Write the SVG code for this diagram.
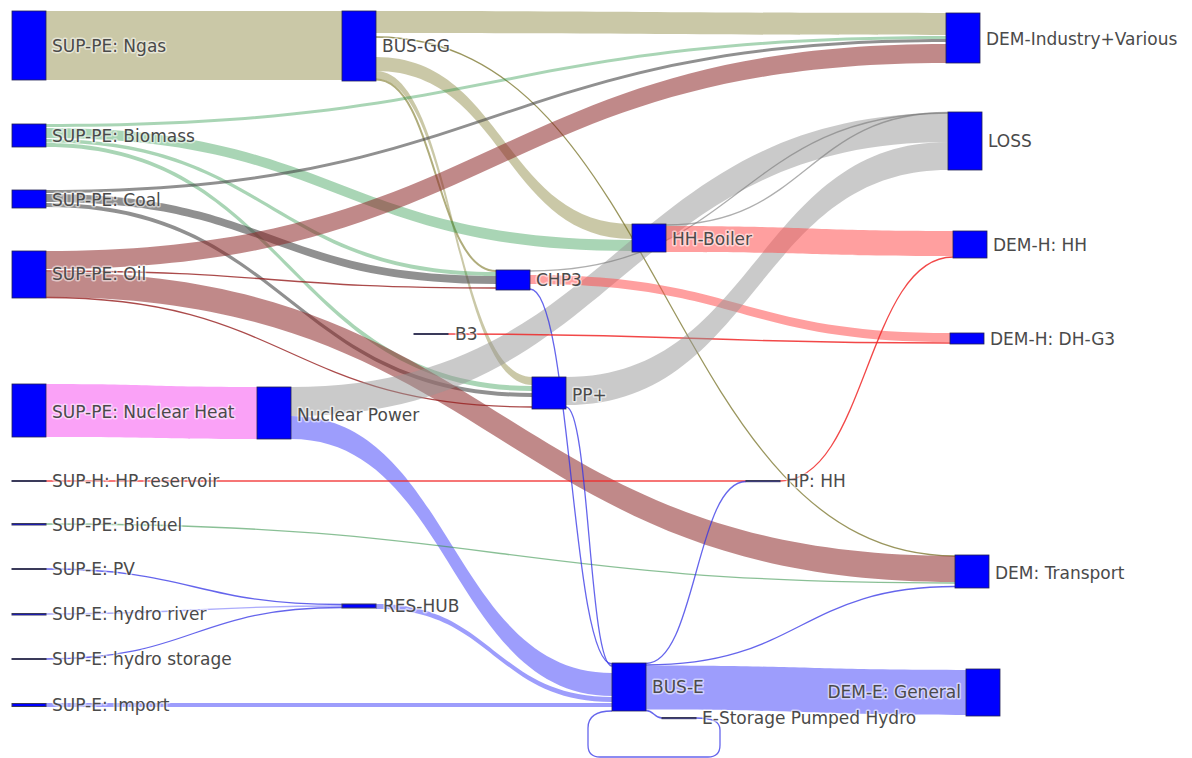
<svg xmlns="http://www.w3.org/2000/svg" width="1192" height="758" viewBox="0 0 1192 758">
<style>
.n{fill:#0000ff;stroke:#222255;stroke-width:0.8}
.tn{fill:#0000ff;stroke:#3a3a5a;stroke-width:1}
.t{font-family:"DejaVu Sans",Verdana,sans-serif;font-size:17px;fill:#4a4a4a;stroke:#fff;stroke-width:3;stroke-opacity:0.55;paint-order:stroke;stroke-linejoin:round}
.kh{fill:rgba(150,145,80,0.5)}
.gr{fill:rgba(40,150,70,0.4)}
.co{fill:rgba(70,70,70,0.6)}
.oi{fill:rgba(140,40,40,0.55)}
.pk{fill:rgba(245,70,240,0.5)}
.ls{fill:rgba(150,150,150,0.5)}
.ht{fill:rgba(255,80,80,0.55)}
.bl{fill:rgba(60,60,250,0.5)}
.l{fill:none;stroke-width:1.3}
.lol{stroke:rgba(120,115,40,0.75)}
.lkh{stroke:rgba(150,145,80,0.75);stroke-width:2}
.lrd{stroke:rgba(150,30,30,0.8)}
.lre{stroke:rgba(240,40,40,0.85)}
.lbl{stroke:rgba(50,50,230,0.75)}
.llb{stroke:rgba(90,90,250,0.5)}
.lgr{stroke:rgba(60,150,80,0.6)}
.lgy{stroke:rgba(120,120,120,0.6)}
</style>
<rect width="1192" height="758" fill="#fff"/>
<g id="links">
<path class="kh" d="M46,11 L342,11 L342,80 L46,80 Z"/>
<path class="kh" d="M376,11 C661,11 661,13 946,13 L946,35 C661,35 661,33 376,33 Z"/>
<path class="kh" d="M376,57 C504,57 504,224 632,224 L632,239 C504,239 504,71 376,71 Z"/>
<path class="kh" d="M376,71 C454,71 454,377 532,377 L532,385 C454,385 454,79 376,79 Z"/>
<path class="l lkh" d="M376,79.5 C436,79.5 436,271 496,271"/>
<path class="l lol" d="M376,37 C665.5,37 665.5,556 955,556"/>
<path class="gr" d="M46,124 C496,124 496,36 946,36 L946,39 C496,39 496,127 46,127 Z"/>
<path class="gr" d="M46,128 C339,128 339,240 632,240 L632,251 C339,251 339,138 46,138 Z"/>
<path class="gr" d="M46,139 C271,139 271,272 496,272 L496,276 C271,276 271,142.5 46,142.5 Z"/>
<path class="gr" d="M46,143 C289,143 289,386 532,386 L532,391 C289,391 289,147 46,147 Z"/>
<path class="co" d="M46,190 C496,190 496,39 946,39 L946,42 C496,42 496,193 46,193 Z"/>
<path class="co" d="M46,194 C271,194 271,276 496,276 L496,284 C271,284 271,202 46,202 Z"/>
<path class="co" d="M46,203 C289,203 289,393 532,393 L532,397 C289,397 289,207 46,207 Z"/>
<path class="oi" d="M46,251 C496,251 496,44 946,44 L946,63 C496,63 496,269 46,269 Z"/>
<path class="l lrd" d="M46,271 C271,271 271,288 496,288"/>
<path class="oi" d="M46,272 C500.5,272 500.5,556 955,556 L955,582 C500.5,582 500.5,297 46,297 Z"/>
<path class="l lrd" d="M46,297.5 C289,297.5 289,407 532,407"/>
<path class="pk" d="M46,384 C151.5,384 151.5,387 257,387 L257,439 C151.5,439 151.5,437 46,437 Z"/>
<path class="ls" d="M291,387 C619.5,387 619.5,113 948,113 L948,142 C619.5,142 619.5,416 291,416 Z"/>
<path class="bl" d="M291,416 C451.5,416 451.5,673 612,673 L612,696 C451.5,696 451.5,439 291,439 Z"/>
<path class="bl" d="M46,703 C329,703 329,703 612,703 L612,707 C329,707 329,707 46,707 Z"/>
<path class="bl" d="M376,604 C494,604 494,697 612,697 L612,702 C494,702 494,609 376,609 Z"/>
<path class="l lbl" d="M46,569 C194,569 194,604.5 342,604.5"/>
<path class="l llb" d="M46,614 C194,614 194,606 342,606"/>
<path class="l lbl" d="M46,659 C194,659 194,607.5 342,607.5"/>
<path class="l lre" d="M46,481 L746,481"/>
<path class="l lgr" d="M46,524 C500.5,524 500.5,583 955,583"/>
<path class="l lgy" d="M530,271 C739,271 739,113 948,113"/>
<path class="ht" d="M530,275 C740,275 740,333 950,333 L950,342 C740,342 740,284 530,284 Z"/>
<path class="l lbl" d="M530,289 C571,289 571,664 612,664"/>
<path class="l lre" d="M448,334 C699,334 699,343 950,343"/>
<path class="ls" d="M566,377 C757,377 757,142 948,142 L948,170 C757,170 757,405 566,405 Z"/>
<path class="l lbl" d="M566,407 C589,407 589,666 612,666"/>
<path class="l lgy" d="M666,225 C807,225 807,112.5 948,112.5"/>
<path class="ht" d="M666,226 C809.5,226 809.5,231 953,231 L953,256 C809.5,256 809.5,252 666,252 Z"/>
<path class="l lre" d="M780,481 C866.5,481 866.5,257 953,257"/>
<path class="l lbl" d="M646,663.5 C696,663.5 696,481.5 746,481.5"/>
<path class="l lbl" d="M646,665 C800.5,665 800.5,586.5 955,586.5"/>
<path class="bl" d="M646,665.5 C806,665.5 806,670 966,670 L966,715 C806,715 806,709.5 646,709.5 Z"/>
<path class="l lbl" d="M646,710.5 C654,710.5 654,718 662,718"/>
<path class="l lbl" d="M612,711 C596,711 588,716 588,728 L588,745 Q588,757 600,757 L708,757 Q720,757 720,745 L720,730 C720,721 712,718 696,718"/>
</g>
<g id="n-ngas"><rect class="n" x="12" y="11" width="34" height="69"/><text class="t" x="52" y="52">SUP-PE: Ngas</text></g>
<g id="n-biomass"><rect class="n" x="12" y="124" width="34" height="23"/><text class="t" x="52" y="142">SUP-PE: Biomass</text></g>
<g id="n-coal"><rect class="n" x="12" y="190" width="34" height="18"/><text class="t" x="52" y="206">SUP-PE: Coal</text></g>
<g id="n-oil"><rect class="n" x="12" y="251" width="34" height="47"/><text class="t" x="52" y="280">SUP-PE: Oil</text></g>
<g id="n-nucheat"><rect class="n" x="12" y="384" width="34" height="53"/><text class="t" x="52" y="418">SUP-PE: Nuclear Heat</text></g>
<g id="n-hpres"><rect class="tn" x="12" y="480.5" width="34" height="1"/><text class="t" x="52" y="487">SUP-H: HP reservoir</text></g>
<g id="n-biofuel"><rect class="tn" x="12" y="523.5" width="34" height="1.5"/><text class="t" x="52" y="531">SUP-PE: Biofuel</text></g>
<g id="n-pv"><rect class="tn" x="12" y="568.5" width="34" height="1"/><text class="t" x="52" y="575">SUP-E: PV</text></g>
<g id="n-hriver"><rect class="tn" x="12" y="613.5" width="34" height="1.5"/><text class="t" x="52" y="620">SUP-E: hydro river</text></g>
<g id="n-hstorage"><rect class="tn" x="12" y="658.5" width="34" height="1"/><text class="t" x="52" y="665">SUP-E: hydro storage</text></g>
<g id="n-import"><rect class="tn" x="12" y="703.5" width="34" height="3"/><text class="t" x="52" y="711">SUP-E: Import</text></g>
<g id="n-busgg"><rect class="n" x="342" y="11" width="34" height="70"/><text class="t" x="382" y="52">BUS-GG</text></g>
<g id="n-nucpower"><rect class="n" x="257" y="387" width="34" height="52"/><text class="t" x="297" y="421">Nuclear Power</text></g>
<g id="n-reshub"><rect class="tn" x="342" y="604" width="34" height="4"/><text class="t" x="383" y="612">RES-HUB</text></g>
<g id="n-b3"><rect class="tn" x="414" y="333.5" width="34" height="1"/><text class="t" x="455" y="340">B3</text></g>
<g id="n-chp3"><rect class="n" x="496" y="270" width="34" height="20"/><text class="t" x="536" y="286">CHP3</text></g>
<g id="n-ppplus"><rect class="n" x="532" y="377" width="34" height="32"/><text class="t" x="572" y="401">PP+</text></g>
<g id="n-hhboiler"><rect class="n" x="632" y="224" width="34" height="28"/><text class="t" x="672" y="245">HH-Boiler</text></g>
<g id="n-hphh"><rect class="tn" x="746" y="480.5" width="34" height="1.2"/><text class="t" x="786" y="487">HP: HH</text></g>
<g id="n-buse"><rect class="n" x="612" y="663" width="34" height="48"/><text class="t" x="652" y="693">BUS-E</text></g>
<g id="n-estorage"><rect class="tn" x="662" y="717.5" width="34" height="1.2"/><text class="t" x="702" y="724">E-Storage Pumped Hydro</text></g>
<g id="n-demind"><rect class="n" x="946" y="13" width="34" height="50"/><text class="t" x="986" y="45">DEM-Industry+Various</text></g>
<g id="n-loss"><rect class="n" x="948" y="112" width="34" height="58"/><text class="t" x="988" y="147">LOSS</text></g>
<g id="n-demhh"><rect class="n" x="953" y="231" width="34" height="27"/><text class="t" x="993" y="251">DEM-H: HH</text></g>
<g id="n-demdh"><rect class="n" x="950" y="333" width="34" height="11"/><text class="t" x="990" y="345">DEM-H: DH-G3</text></g>
<g id="n-demtr"><rect class="n" x="955" y="555" width="34" height="33"/><text class="t" x="995" y="579">DEM: Transport</text></g>
<g id="n-deme"><rect class="n" x="966" y="669" width="34" height="47"/><text class="t" x="961" y="698" text-anchor="end">DEM-E: General</text></g>
</svg>
